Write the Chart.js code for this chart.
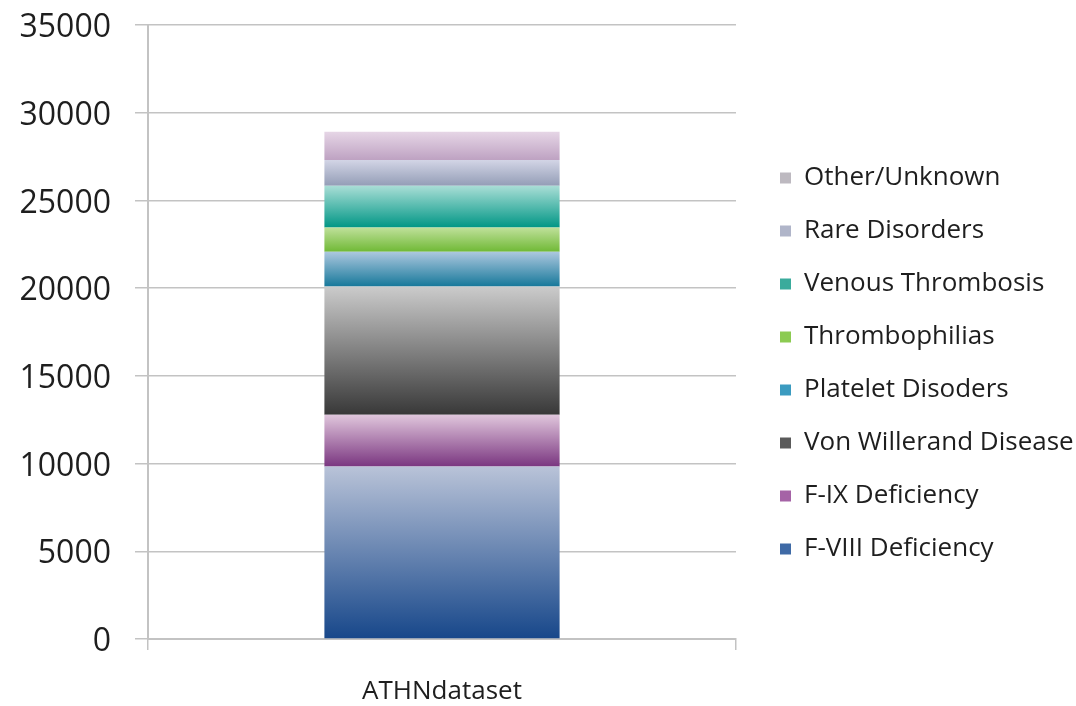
<!DOCTYPE html>
<html>
<head>
<meta charset="utf-8">
<title>ATHN dataset – patients by diagnosis</title>
<script src="https://cdn.jsdelivr.net/npm/chart.js@4/dist/chart.umd.min.js"></script>
<style>
  html, body { margin: 0; padding: 0; background: #ffffff; }
  #chart { display: block; }
</style>
</head>
<body>
<canvas id="chart" width="1076" height="706"></canvas>
<script>
// Category on the x axis
const categories = ['ATHNdataset'];

// Series names, bottom of the stack first
const seriesNames = [
  'F-VIII Deficiency',
  'F-IX Deficiency',
  'Von Willerand Disease',
  'Platelet Disoders',
  'Thrombophilias',
  'Venous Thrombosis',
  'Rare Disorders',
  'Other/Unknown'
];

// Patient counts per diagnosis group
const fviiiDeficiency   = [9830];
const fixDeficiency     = [2950];
const vonWillerand      = [7310];
const plateletDisorders = [1990];
const thrombophilias    = [1370];
const venousThrombosis  = [2380];
const rareDisorders     = [1480];
const otherUnknown      = [1610];

// Value axis ticks
const yTicks = [0, 5000, 10000, 15000, 20000, 25000, 30000, 35000];

const seriesValues = [
  fviiiDeficiency, fixDeficiency, vonWillerand, plateletDisorders,
  thrombophilias, venousThrombosis, rareDisorders, otherUnknown
];

// Segment shading: light at the top, deep at the bottom; key = legend swatch
const seriesColors = [
  { top: '#b9c3d8', bottom: '#17478a', key: '#3f6aa6' },
  { top: '#e0c6dc', bottom: '#7a3680', key: '#a563a6' },
  { top: '#cbcbcb', bottom: '#383838', key: '#5a5a5a' },
  { top: '#adc8df', bottom: '#16789a', key: '#3b9bc0' },
  { top: '#bfe09a', bottom: '#70b936', key: '#8ccb52' },
  { top: '#a9ded6', bottom: '#009685', key: '#3aab9c' },
  { top: '#d3d5e6', bottom: '#939db6', key: '#b0b5c9' },
  { top: '#e6d6e6', bottom: '#bea2c2', key: '#bdb9c0' }
];

function segmentFill(seriesIndex) {
  return function (ctx) {
    const chart = ctx.chart;
    const yScale = chart.scales && chart.scales.y;
    const c = seriesColors[seriesIndex];
    if (!chart.chartArea || !yScale) return c.key;
    const idx = ctx.dataIndex || 0;
    let start = 0;
    for (let k = 0; k < seriesIndex; k++) start += seriesValues[k][idx];
    const end = start + seriesValues[seriesIndex][idx];
    const yTop = yScale.getPixelForValue(end);
    const yBottom = yScale.getPixelForValue(start);
    if (!isFinite(yTop) || !isFinite(yBottom) || yTop === yBottom) return c.key;
    const g = chart.ctx.createLinearGradient(0, yTop, 0, yBottom);
    g.addColorStop(0, c.top);
    g.addColorStop(1, c.bottom);
    return g;
  };
}

const datasets = seriesNames.map((name, i) => ({
  label: name,
  data: seriesValues[i],
  backgroundColor: segmentFill(i),
  borderWidth: 0,
  barPercentage: 0.4,
  categoryPercentage: 1.0
}));

const AXIS_GREY = '#c3c3c3';
const FONT = '"Open Sans", "DejaVu Sans", sans-serif';

// Legend sizing: fixed column width, box placed a little away from the plot
const legendLayout = {
  id: 'legendLayout',
  afterInit(chart) {
    const lg = chart.legend;
    if (!lg) return;
    const fit = lg.fit.bind(lg);
    lg.fit = function () { fit(); this.width = 340; };
  },
  afterLayout(chart) {
    const lg = chart.legend;
    if (!lg) return;
    const dx = 17, dy = -2;
    lg.left += dx; lg.right += dx;
    lg.top += dy; lg.bottom += dy;
  }
};

new Chart(document.getElementById('chart'), {
  type: 'bar',
  data: { labels: categories, datasets },
  plugins: [legendLayout],
  options: {
    responsive: false,
    devicePixelRatio: 1,
    animation: false,
    layout: { padding: { top: 25, left: 0, right: 0, bottom: 0 } },
    plugins: {
      tooltip: { enabled: false },
      title: { display: false },
      legend: {
        position: 'right',
        reverse: true,
        labels: {
          boxWidth: 11,
          boxHeight: 11,
          padding: 27,
          color: '#1e1e1e',
          font: { family: FONT, size: 26 },
          generateLabels(chart) {
            const items = Chart.defaults.plugins.legend.labels.generateLabels(chart);
            items.forEach(it => {
              it.fillStyle = seriesColors[it.datasetIndex].key;
              it.strokeStyle = 'rgba(0,0,0,0)';
              it.lineWidth = 0;
            });
            return items;
          }
        }
      }
    },
    scales: {
      x: {
        stacked: true,
        offset: true,
        afterFit(scale) { scale.height = 67; },
        grid: {
          offset: true,
          drawOnChartArea: false,
          drawTicks: true,
          tickLength: 11,
          color: AXIS_GREY,
          lineWidth: 1.5
        },
        border: { display: true, color: AXIS_GREY, width: 2 },
        ticks: {
          color: '#1e1e1e',
          font: { family: FONT, size: 26 },
          padding: 26
        }
      },
      y: {
        stacked: true,
        min: yTicks[0],
        max: yTicks[yTicks.length - 1],
        afterFit(scale) {
          scale.width = 148;
          scale.paddingTop = 0;
          scale.paddingBottom = 0;
        },
        afterBuildTicks(scale) { scale.ticks = yTicks.map(v => ({ value: v })); },
        grid: {
          color: AXIS_GREY,
          lineWidth: 1.5,
          tickLength: 13,
          drawTicks: true
        },
        border: { display: true, color: AXIS_GREY, width: 2 },
        ticks: {
          color: '#1e1e1e',
          font: { family: FONT, size: 32 },
          padding: 24,
          labelOffset: 3,
          callback: v => String(v)
        }
      }
    }
  }
});
</script>
</body>
</html>
